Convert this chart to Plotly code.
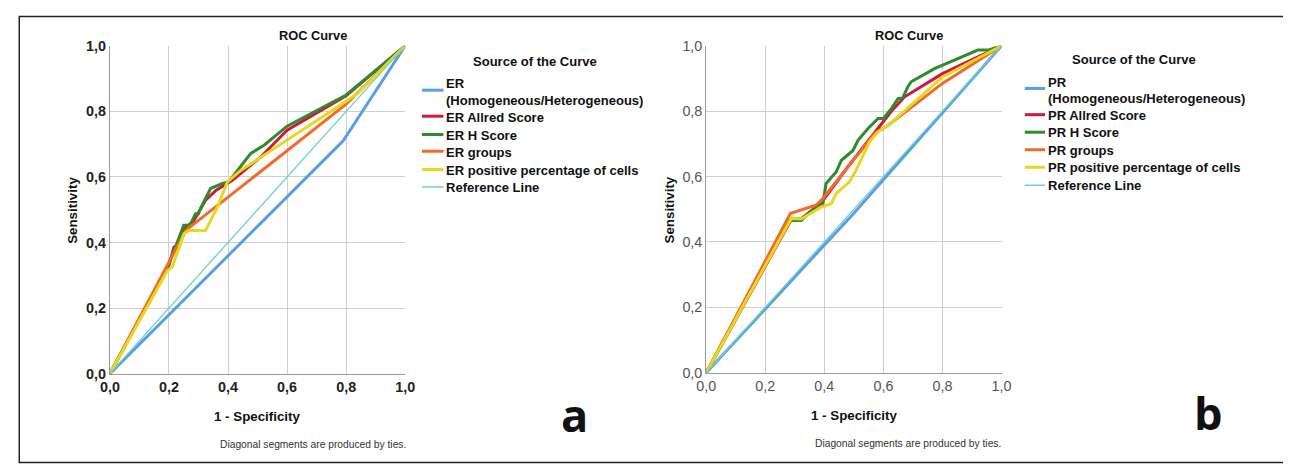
import plotly.graph_objects as go

W, H = 1291, 464

# ---------------- Data: panel a (ER) ----------------
er_homog_fpr = [0, 0.79, 1]
er_homog_tpr = [0, 0.71, 1]
er_allred_fpr = [0, 0.20, 0.217, 0.228, 0.24, 0.26, 0.28, 0.30, 0.324, 0.36, 0.415, 0.511, 0.60, 0.80, 1]
er_allred_tpr = [0, 0.33, 0.386, 0.39, 0.42, 0.45, 0.46, 0.49, 0.529, 0.56, 0.59, 0.661, 0.743, 0.848, 1]
er_hscore_fpr = [0, 0.195, 0.235, 0.25, 0.267, 0.275, 0.29, 0.30, 0.307, 0.341, 0.381, 0.403, 0.415, 0.477, 0.522, 0.60, 0.80, 1]
er_hscore_tpr = [0, 0.325, 0.417, 0.453, 0.453, 0.46, 0.488, 0.488, 0.504, 0.565, 0.58, 0.585, 0.60, 0.672, 0.697, 0.755, 0.85, 1]
er_groups_fpr = [0, 0.257, 0.80, 1]
er_groups_tpr = [0, 0.437, 0.822, 1]
er_pos_fpr = [0, 0.195, 0.211, 0.251, 0.267, 0.324, 0.364, 0.398, 0.443, 0.601, 0.782, 0.839, 1]
er_pos_tpr = [0, 0.315, 0.325, 0.427, 0.437, 0.437, 0.508, 0.585, 0.62, 0.712, 0.82, 0.855, 1]

# ---------------- Data: panel b (PR) ----------------
pr_homog_fpr = [0, 0.5, 1]
pr_homog_tpr = [0, 0.488, 1]
pr_allred_fpr = [0, 0.29, 0.32, 0.36, 0.39, 0.48, 0.559, 0.627, 0.672, 0.80, 1]
pr_allred_tpr = [0, 0.472, 0.47, 0.50, 0.52, 0.63, 0.721, 0.80, 0.844, 0.915, 1]
pr_hscore_fpr = [0, 0.277, 0.322, 0.35, 0.395, 0.406, 0.44, 0.458, 0.497, 0.514, 0.548, 0.582, 0.60, 0.627, 0.65, 0.665, 0.683, 0.694, 0.773, 0.92, 0.955, 1]
pr_hscore_tpr = [0, 0.466, 0.466, 0.49, 0.517, 0.579, 0.614, 0.65, 0.68, 0.711, 0.747, 0.778, 0.778, 0.808, 0.839, 0.84, 0.875, 0.89, 0.93, 0.987, 0.987, 1]
pr_groups_fpr = [0, 0.285, 0.373, 0.39, 0.571, 0.616, 0.80, 1]
pr_groups_tpr = [0, 0.487, 0.513, 0.528, 0.732, 0.757, 0.885, 1]
pr_pos_fpr = [0, 0.288, 0.322, 0.39, 0.424, 0.44, 0.485, 0.508, 0.553, 0.582, 0.627, 0.80, 1]
pr_pos_tpr = [0, 0.472, 0.47, 0.507, 0.517, 0.548, 0.584, 0.62, 0.706, 0.737, 0.765, 0.905, 1]

ref_fpr = [0, 1]
ref_tpr = [0, 1]

er_names = ["ER", "ER Allred Score", "ER H Score",
            "ER groups", "ER positive percentage of cells", "Reference Line"]
pr_names = ["PR", "PR Allred Score", "PR H Score",
            "PR groups", "PR positive percentage of cells", "Reference Line"]
second_line = "(Homogeneous/Heterogeneous)"
legend_title = "Source of the Curve"
tick_vals = [0, 0.2, 0.4, 0.6, 0.8, 1.0]
tick_text = ["0,0", "0,2", "0,4", "0,6", "0,8", "1,0"]

colors = ["#5b9ee6", "#d2173d", "#2e8b2e", "#f26b2a", "#e6d81c", "#6fd0c9"]
widths = [3, 3, 3, 3, 3, 1.3]

FONT = "Arial, Liberation Sans, sans-serif"

# mapping from target pixel positions to paper fractions (compensating the
# observed placement of the rendered page)
OX, SW = 17.5, 1269.7
OY, SH = 15.9, 447.6
FS = 1.0 / 0.975  # font compensation


def fx(p):
    return (p - OX) / SW


def fy(p):
    return 1 - (p - OY) / SH


fig = go.Figure()

er_series = [(er_homog_fpr, er_homog_tpr), (er_allred_fpr, er_allred_tpr), (er_hscore_fpr, er_hscore_tpr),
             (er_groups_fpr, er_groups_tpr), (er_pos_fpr, er_pos_tpr), (ref_fpr, ref_tpr)]
pr_series = [(pr_homog_fpr, pr_homog_tpr), (pr_allred_fpr, pr_allred_tpr), (pr_hscore_fpr, pr_hscore_tpr),
             (pr_groups_fpr, pr_groups_tpr), (pr_pos_fpr, pr_pos_tpr), (ref_fpr, ref_tpr)]

for i, (xs, ys) in enumerate(er_series):
    fig.add_trace(go.Scatter(x=xs, y=ys, mode="lines", name=er_names[i],
                             line=dict(color=colors[i], width=widths[i]),
                             xaxis="x", yaxis="y", showlegend=False))
for i, (xs, ys) in enumerate(pr_series):
    fig.add_trace(go.Scatter(x=xs, y=ys, mode="lines", name=pr_names[i],
                             line=dict(color=colors[i], width=widths[i]),
                             xaxis="x2", yaxis="y2", showlegend=False))

axis_common = dict(range=[0, 1], tickvals=tick_vals, ticktext=tick_text, showgrid=True,
                   gridcolor="#cfcfcf", gridwidth=1, zeroline=False, showline=True,
                   linecolor="#9a9a9a", linewidth=1, ticks="", fixedrange=True)

fig.update_layout(
    width=W, height=H, margin=dict(l=0, r=0, t=0, b=0),
    paper_bgcolor="white", plot_bgcolor="white",
    font=dict(family=FONT, color="#222"),
    xaxis=dict(domain=[fx(109.3), fx(404.3)], anchor="y",
               tickfont=dict(size=14 * FS, color="#222", weight="bold"), **axis_common),
    yaxis=dict(domain=[fy(373.3), fy(45.7)], anchor="x",
               tickfont=dict(size=14 * FS, color="#222", weight="bold"), **axis_common),
    xaxis2=dict(domain=[fx(705), fx(1000)], anchor="y2",
                tickfont=dict(size=14 * FS, color="#555"), **axis_common),
    yaxis2=dict(domain=[fy(372.3), fy(45.7)], anchor="x2",
                tickfont=dict(size=14 * FS, color="#555"), **axis_common),
    showlegend=False,
)

ann = []
shapes = []


def add_text(x, y, text, size, bold=True, color="#111", angle=0, family=FONT, anchor="center"):
    ann.append(dict(x=fx(x), y=fy(y), xref="paper", yref="paper", text=text,
                    showarrow=False, xanchor=anchor, yanchor="middle", textangle=angle,
                    font=dict(size=size * FS, color=color, family=family,
                              weight="bold" if bold else "normal")))


add_text(312, 35, "ROC Curve", 12.5)
add_text(908, 35, "ROC Curve", 12.5)
add_text(72, 210, "Sensitivity", 13, angle=-90)
add_text(668, 210, "Sensitivity", 13, angle=-90)
add_text(257, 416, "1 - Specificity", 13)
add_text(853, 415, "1 - Specificity", 13)
add_text(312, 444, "Diagonal segments are produced by ties.", 10, bold=False, color="#333")
add_text(907, 443, "Diagonal segments are produced by ties.", 10, bold=False, color="#333")
add_text(573, 414, "a", 44, family="Open Sans, Lato, sans-serif")
add_text(1207, 412, "b", 44, family="Open Sans, Lato, sans-serif")

# legends (drawn as line glyphs + labels)
legend_specs = [
    # title_x, title_y, glyph_x0, glyph_x1, text_x, row ys, glyph ys, names
    (534, 61, 421, 442.5, 443.5, [83.3, 117.3, 135, 152, 170, 187.3], [90, 116, 134.3, 151, 169.3, 186.7], er_names, 100),
    (1132, 59, 1023.3, 1043.5, 1044.5, [82.7, 115, 132.7, 150, 167.7, 185.7], [88.3, 114.5, 132, 149.5, 167, 185], pr_names, 98.3),
]
for tx, ty, gx0, gx1, txt_x, rows, gys, names, y2 in legend_specs:
    add_text(tx, ty, legend_title, 12.7)
    for i, name in enumerate(names):
        add_text(txt_x, rows[i], name, 12.7, anchor="left")
        shapes.append(dict(type="line", xref="paper", yref="paper",
                           x0=fx(gx0), x1=fx(gx1), y0=fy(gys[i]), y1=fy(gys[i]),
                           line=dict(color=colors[i], width=3 if i < 5 else 1.5)))
    add_text(txt_x, y2, second_line, 12.7, anchor="left")

fig.update_layout(annotations=ann)

# outer frame
shapes.append(dict(type="rect", xref="paper", yref="paper", x0=0.001, x1=min(fx(1289), 0.999),
                   y0=max(fy(462), 0.001), y1=0.999,
                   line=dict(color="#222", width=1.5), fillcolor="rgba(0,0,0,0)", layer="above"))
fig.update_layout(shapes=shapes)

fig.write_html("out.html")
